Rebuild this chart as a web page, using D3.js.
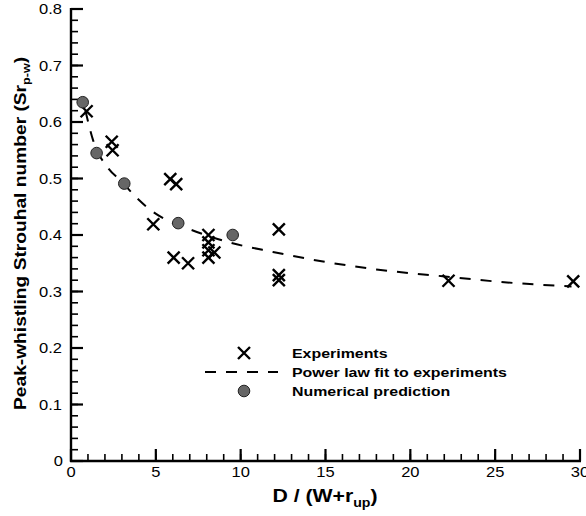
<!DOCTYPE html>
<html>
<head>
<meta charset="utf-8">
<script src="https://cdn.jsdelivr.net/npm/d3@7"></script>
<style>
  body { margin: 0; background: #fff; }
  svg { display: block; font-family: "Liberation Sans", Arial, sans-serif; }
</style>
</head>
<body>
<div id="chart"></div>
<script>
// experiments (crosses)
const expX = [0.92, 2.4, 2.45, 5.85, 6.2, 4.85, 6.05, 6.9, 8.1, 8.1, 8.1, 8.1, 8.45, 12.25, 12.25, 12.25, 22.25, 29.6]
const expY = [0.619, 0.565, 0.55, 0.499, 0.49, 0.419, 0.36, 0.35, 0.40, 0.387, 0.373, 0.36, 0.369, 0.41, 0.329, 0.32, 0.319, 0.318]

// numerical prediction (circles)
const numX = [0.69, 1.51, 3.14, 6.32, 9.53]
const numY = [0.635, 0.545, 0.491, 0.421, 0.40]

// power law fit
const fitX = [0.85, 1.3, 2.2, 2.9, 3.9, 4.7, 5.6, 7, 9.2, 11.9, 14.3, 18, 21.9, 25.7, 29.5]
const fitY = [0.62, 0.568, 0.518, 0.497, 0.465, 0.444, 0.427, 0.41, 0.388, 0.37, 0.356, 0.339, 0.327, 0.316, 0.309]

const xTicks = [0, 5, 10, 15, 20, 25, 30]
const yTicks = [0, 0.1, 0.2, 0.3, 0.4, 0.5, 0.6, 0.7, 0.8]
const xMinor = d3.range(0, 31, 1)
const yMinor = d3.range(0, 41, 1).map(d => d * 0.02)

const legendLabels = ["Experiments", "Power law fit to experiments", "Numerical prediction"]

const width = 586, height = 516
const mLeft = 71, mRight = 580, mTop = 9, mBottom = 461
const stretch = 1.18   // glyphs in the picture are wider than Arial

var svg = d3.select("#chart").append("svg")
  .attr("width", width)
  .attr("height", height)

var x = d3.scaleLinear().domain([0, 30]).range([mLeft, mRight])
var y = d3.scaleLinear().domain([0, 0.8]).range([mBottom, mTop])

// ticks pointing inward, minor then major
svg.selectAll(".xminor").data(xMinor).enter()
  .append("line").attr("class", "xminor")
  .attr("x1", d => x(d)).attr("x2", d => x(d))
  .attr("y1", mBottom).attr("y2", mBottom - 7)
  .attr("stroke", "#000").attr("stroke-width", 1.6)

svg.selectAll(".yminor").data(yMinor).enter()
  .append("line").attr("class", "yminor")
  .attr("x1", mLeft).attr("x2", mLeft + 7)
  .attr("y1", d => y(d)).attr("y2", d => y(d))
  .attr("stroke", "#000").attr("stroke-width", 1.6)

svg.selectAll(".xmajor").data(xTicks).enter()
  .append("line").attr("class", "xmajor")
  .attr("x1", d => x(d)).attr("x2", d => x(d))
  .attr("y1", mBottom).attr("y2", mBottom - 12)
  .attr("stroke", "#000").attr("stroke-width", 2.2)

svg.selectAll(".ymajor").data(yTicks).enter()
  .append("line").attr("class", "ymajor")
  .attr("x1", mLeft).attr("x2", mLeft + 12)
  .attr("y1", d => y(d)).attr("y2", d => y(d))
  .attr("stroke", "#000").attr("stroke-width", 2.2)

// axis lines
svg.append("line").attr("x1", mLeft).attr("x2", mLeft).attr("y1", mTop - 1).attr("y2", mBottom + 1)
  .attr("stroke", "#000").attr("stroke-width", 2.4)
svg.append("line").attr("x1", mLeft - 1).attr("x2", mRight + 1).attr("y1", mBottom).attr("y2", mBottom)
  .attr("stroke", "#000").attr("stroke-width", 2.4)

// tick labels
svg.append("g").selectAll("text").data(xTicks).enter()
  .append("text")
  .attr("transform", d => "translate(" + x(d) + "," + (mBottom + 16) + ") scale(" + stretch + ",1)")
  .attr("text-anchor", "middle")
  .attr("font-size", 14)
  .text(d => d)

svg.append("g").selectAll("text").data(yTicks).enter()
  .append("text")
  .attr("transform", d => "translate(" + (d === 0 ? mLeft - 8 : mLeft - 9) + "," + (y(d) + 5) + ") scale(" + stretch + ",1)")
  .attr("text-anchor", "end")
  .attr("font-size", 14)
  .text(d => d === 0 ? "0" : d3.format(".1f")(d))

// axis titles
var xt = svg.append("text")
  .attr("transform", "translate(325,502) scale(" + stretch + ",1)")
  .attr("text-anchor", "middle")
  .attr("font-size", 18).attr("font-weight", "bold")
xt.append("tspan").text("D / (W+r")
xt.append("tspan").attr("font-size", 12).attr("dy", 5).text("up")
xt.append("tspan").attr("dy", -5).text(")")

var yt = svg.append("text")
  .attr("transform", "translate(26,410) rotate(-90) scale(1.2,1)")
  .attr("text-anchor", "start")
  .attr("font-size", 16).attr("font-weight", "bold")
yt.append("tspan").text("Peak-whistling Strouhal number (Sr")
yt.append("tspan").attr("font-size", 10.5).attr("dy", 4).text("p-w")
yt.append("tspan").attr("dy", -4).text(")")

// fit curve
var line = d3.line()
  .x((d, i) => x(fitX[i]))
  .y((d, i) => y(fitY[i]))
  .curve(d3.curveMonotoneX)

svg.append("path")
  .datum(fitX)
  .attr("d", line)
  .attr("fill", "none")
  .attr("stroke", "#000")
  .attr("stroke-width", 2)
  .attr("stroke-dasharray", "11,10")

// crosses
svg.append("g").selectAll("path").data(expX).enter()
  .append("path")
  .attr("transform", (d, i) => "translate(" + x(d) + "," + y(expY[i]) + ")")
  .attr("d", "M-6,-6L6,6M-6,6L6,-6")
  .attr("stroke", "#000")
  .attr("stroke-width", 2.4)
  .attr("fill", "none")

// circles
svg.append("g").selectAll("circle").data(numX).enter()
  .append("circle")
  .attr("cx", d => x(d))
  .attr("cy", (d, i) => y(numY[i]))
  .attr("r", 5.8)
  .attr("fill", "#666")
  .attr("stroke", "#222")
  .attr("stroke-width", 1)

// legend
var leg = svg.append("g").attr("font-size", 13.5).attr("font-weight", "bold")
const legY = [353, 372, 391]
leg.append("path")
  .attr("transform", "translate(244," + legY[0] + ")")
  .attr("d", "M-6,-6L6,6M-6,6L6,-6")
  .attr("stroke", "#000").attr("stroke-width", 2.4)
leg.append("line")
  .attr("x1", 205).attr("x2", 278).attr("y1", legY[1]).attr("y2", legY[1])
  .attr("stroke", "#000").attr("stroke-width", 2).attr("stroke-dasharray", "11,10")
leg.append("circle")
  .attr("cx", 244).attr("cy", legY[2]).attr("r", 5.8)
  .attr("fill", "#666").attr("stroke", "#222")
leg.selectAll("text").data(legendLabels).enter()
  .append("text")
  .attr("transform", (d, i) => "translate(292," + (legY[i] + 5) + ") scale(" + stretch + ",1)")
  .text(d => d)
</script>
</body>
</html>
